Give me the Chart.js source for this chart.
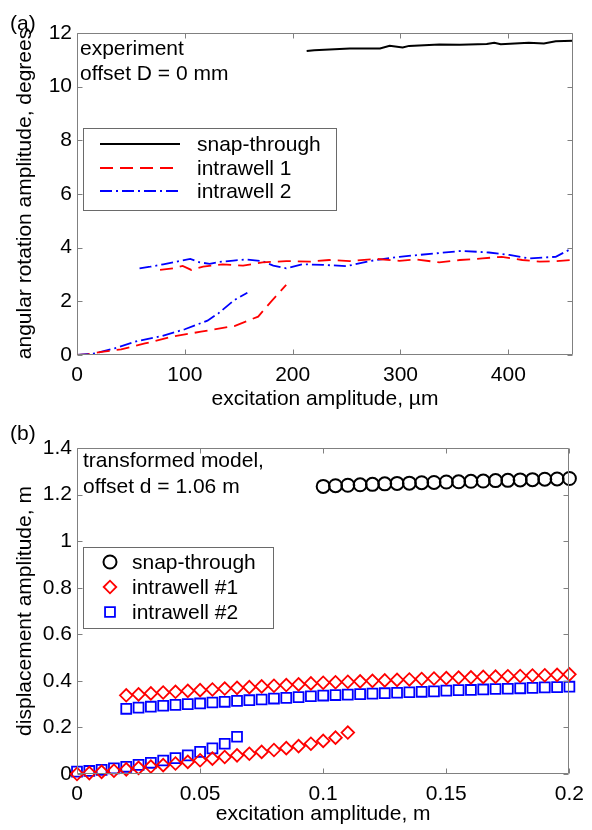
<!DOCTYPE html>
<html>
<head>
<meta charset="utf-8">
<script src="https://cdn.jsdelivr.net/npm/chart.js@4.4.1/dist/chart.umd.min.js"></script>
<style>
  body { margin: 0; background: #fff; }
  #wrap { position: relative; width: 592px; height: 830px; }
  canvas { position: absolute; left: 0; }
</style>
</head>
<body>
<div id="wrap">
  <canvas id="chartA" width="592" height="415" style="top:0"></canvas>
  <canvas id="chartB" width="592" height="415" style="top:415px"></canvas>
</div>
<script>
// ---- panel (a): experiment, excitation amplitude in um vs angle in degrees
var snapX = [213, 220, 253, 281, 290, 302, 308, 336, 355, 380, 387, 393, 419, 433, 444, 460];
var snapY = [11.33, 11.36, 11.42, 11.42, 11.52, 11.46, 11.52, 11.57, 11.56, 11.59, 11.64, 11.58, 11.64, 11.61, 11.69, 11.71];

var well1LowX = [0, 10, 23, 41, 63, 88, 115, 146, 168, 180, 194];
var well1LowY = [0, 0.02, 0.12, 0.21, 0.43, 0.68, 0.87, 1.08, 1.43, 1.99, 2.61];
var well1HighX = [77, 89, 98, 106, 117, 135, 154, 172, 194, 216, 234, 253, 278, 299, 315, 336, 355, 376, 394, 413, 429, 444, 460];
var well1HighY = [3.17, 3.23, 3.32, 3.17, 3.29, 3.38, 3.33, 3.45, 3.5, 3.48, 3.54, 3.5, 3.58, 3.51, 3.56, 3.45, 3.54, 3.6, 3.66, 3.54, 3.48, 3.5, 3.54];

var well2LowX = [0, 17, 35, 56, 79, 100, 121, 131, 146, 158];
var well2LowY = [0, 0.06, 0.25, 0.52, 0.71, 0.96, 1.28, 1.55, 2.05, 2.32];
var well2HighX = [58, 68, 80, 95, 105, 114, 123, 132, 145, 157, 172, 182, 194, 209, 228, 250, 271, 299, 333, 357, 382, 401, 419, 444, 456, 460];
var well2HighY = [3.23, 3.29, 3.38, 3.5, 3.58, 3.45, 3.4, 3.47, 3.52, 3.56, 3.5, 3.33, 3.23, 3.38, 3.36, 3.31, 3.5, 3.66, 3.79, 3.88, 3.82, 3.73, 3.6, 3.66, 3.91, 3.95];

// ---- panel (b): transformed model, excitation amplitude in m vs displacement in m
var circX = [0.1, 0.105, 0.11, 0.115, 0.12, 0.125, 0.13, 0.135, 0.14, 0.145, 0.15, 0.155, 0.16, 0.165, 0.17, 0.175, 0.18, 0.185, 0.19, 0.195, 0.2];
var circY = [1.235, 1.238, 1.24, 1.242, 1.244, 1.246, 1.248, 1.249, 1.251, 1.252, 1.254, 1.255, 1.257, 1.258, 1.26, 1.261, 1.263, 1.264, 1.266, 1.267, 1.269];

var diaLowX = [0, 0.005, 0.01, 0.015, 0.02, 0.025, 0.03, 0.035, 0.04, 0.045, 0.05, 0.055, 0.06, 0.065, 0.07, 0.075, 0.08, 0.085, 0.09, 0.095, 0.1, 0.105, 0.11];
var diaLowY = [0, 0.004, 0.009, 0.014, 0.02, 0.026, 0.032, 0.038, 0.045, 0.052, 0.059, 0.066, 0.073, 0.08, 0.087, 0.095, 0.103, 0.111, 0.12, 0.13, 0.142, 0.156, 0.178];
var highX = [0.02, 0.025, 0.03, 0.035, 0.04, 0.045, 0.05, 0.055, 0.06, 0.065, 0.07, 0.075, 0.08, 0.085, 0.09, 0.095, 0.1, 0.105, 0.11, 0.115, 0.12, 0.125, 0.13, 0.135, 0.14, 0.145, 0.15, 0.155, 0.16, 0.165, 0.17, 0.175, 0.18, 0.185, 0.19, 0.195, 0.2];
var diaHighY = [0.338, 0.342, 0.346, 0.35, 0.353, 0.357, 0.36, 0.363, 0.367, 0.37, 0.373, 0.376, 0.379, 0.382, 0.385, 0.389, 0.392, 0.394, 0.396, 0.398, 0.4, 0.402, 0.404, 0.406, 0.408, 0.41, 0.412, 0.414, 0.415, 0.417, 0.418, 0.42, 0.421, 0.423, 0.424, 0.426, 0.428];

var sqLowX = [0, 0.005, 0.01, 0.015, 0.02, 0.025, 0.03, 0.035, 0.04, 0.045, 0.05, 0.055, 0.06, 0.065];
var sqLowY = [0.01, 0.013, 0.018, 0.024, 0.031, 0.039, 0.048, 0.058, 0.068, 0.08, 0.095, 0.11, 0.13, 0.16];
var sqHighY = [0.28, 0.285, 0.289, 0.293, 0.297, 0.3, 0.303, 0.307, 0.31, 0.314, 0.317, 0.32, 0.324, 0.327, 0.33, 0.334, 0.337, 0.339, 0.341, 0.343, 0.345, 0.347, 0.349, 0.351, 0.353, 0.355, 0.358, 0.36, 0.361, 0.363, 0.365, 0.366, 0.368, 0.37, 0.372, 0.373, 0.375];

var FONT = "'Liberation Sans', Arial, Helvetica, sans-serif";
Chart.defaults.font.family = FONT;
Chart.defaults.font.size = 21;
Chart.defaults.color = '#000';

function pts(xs, ys) {
  return xs.map(function(x, i) { return { x: x, y: ys[i] }; });
}
function fmt(v) { return String(+v.toFixed(4)); }

// frame, inward ticks on four sides, panel label, notes and legend box
function decor(cfg) {
  return {
    id: 'decor',
    afterDatasetsDraw: function(chart) {
      var ctx = chart.ctx, a = chart.chartArea, sx = chart.scales.x, sy = chart.scales.y;
      ctx.save();
      ctx.strokeStyle = '#808080';
      ctx.lineWidth = 1;
      ctx.setLineDash([]);
      ctx.beginPath();
      var L = Math.round(a.left) + 0.5, R = Math.round(a.right) - 0.5;
      var T = Math.round(a.top) + 0.5, B = Math.round(a.bottom) - 0.5;
      ctx.rect(L, T, R - L, B - T);
      sx.ticks.forEach(function(t) {
        var p = Math.round(sx.getPixelForValue(t.value)) + 0.5;
        ctx.moveTo(p, B); ctx.lineTo(p, B - 5);
        ctx.moveTo(p, T); ctx.lineTo(p, T + 5);
      });
      sy.ticks.forEach(function(t) {
        var p = Math.round(sy.getPixelForValue(t.value)) + 0.5;
        ctx.moveTo(L, p); ctx.lineTo(L + 5, p);
        ctx.moveTo(R, p); ctx.lineTo(R - 5, p);
      });
      ctx.stroke();
      ctx.restore();
    },
    afterDraw: function(chart) {
      var ctx = chart.ctx;
      ctx.save();
      ctx.font = '21px ' + FONT;
      ctx.fillStyle = '#000';
      ctx.textBaseline = 'alphabetic';
      ctx.fillText(cfg.tag[0], cfg.tag[1], cfg.tag[2]);
      cfg.notes.forEach(function(n) { ctx.fillText(n[0], n[1], n[2]); });

      var b = cfg.box;
      ctx.fillStyle = '#fff';
      ctx.fillRect(b[0], b[1], b[2] - b[0], b[3] - b[1]);
      ctx.strokeStyle = '#6a6a6a';
      ctx.lineWidth = 1;
      ctx.strokeRect(b[0] + 0.5, b[1] + 0.5, b[2] - b[0], b[3] - b[1]);

      cfg.items.forEach(function(it) {
        var ds = chart.data.datasets[it.ds];
        ctx.save();
        ctx.strokeStyle = ds.borderColor;
        ctx.lineWidth = ds.borderWidth;
        if (cfg.lines) {
          ctx.setLineDash(ds.borderDash || []);
          ctx.beginPath();
          ctx.moveTo(cfg.sample[0], it.y);
          ctx.lineTo(cfg.sample[1], it.y);
          ctx.stroke();
        } else {
          ctx.fillStyle = 'rgba(0,0,0,0)';
          Chart.helpers.drawPoint(ctx, {
            pointStyle: ds.pointStyle, radius: ds.pointRadius, rotation: 0, borderWidth: ds.borderWidth
          }, cfg.sample[0], it.y);
        }
        ctx.restore();
        ctx.fillStyle = '#000';
        ctx.textBaseline = 'middle';
        ctx.fillText(ds.label, cfg.textX, it.y + 1);
      });
      ctx.restore();
    }
  };
}

function scales(xMin, xMax, xStep, yMin, yMax, yStep, xTitle, yTitle, xH) {
  return {
    x: {
      type: 'linear', min: xMin, max: xMax,
      grid: { display: false, drawTicks: false }, border: { display: false },
      ticks: { stepSize: xStep, includeBounds: false, padding: 8, maxRotation: 0, callback: fmt },
      title: { display: true, text: xTitle, padding: { top: 0, bottom: 3 } },
      afterFit: function(s) { s.height = xH; }
    },
    y: {
      type: 'linear', min: yMin, max: yMax,
      grid: { display: false, drawTicks: false }, border: { display: false },
      ticks: { stepSize: yStep, includeBounds: false, padding: 5, callback: fmt },
      title: { display: true, text: yTitle, padding: { top: 13, bottom: 0 } },
      afterFit: function(s) { s.width = 77; }
    }
  };
}

var RED = '#ff0000', BLUE = '#0000ff';

new Chart(document.getElementById('chartA'), {
  type: 'line',
  data: {
    datasets: [
      { label: 'snap-through', data: pts(snapX, snapY), borderColor: '#000', borderWidth: 2 },
      { label: 'intrawell 1', data: pts(well1LowX, well1LowY), borderColor: RED, borderWidth: 1.8, borderDash: [13, 7] },
      { label: 'intrawell 1', data: pts(well1HighX, well1HighY), borderColor: RED, borderWidth: 1.8, borderDash: [13, 7] },
      { label: 'intrawell 2', data: pts(well2LowX, well2LowY), borderColor: BLUE, borderWidth: 1.8, borderDash: [12, 4, 2, 4] },
      { label: 'intrawell 2', data: pts(well2HighX, well2HighY), borderColor: BLUE, borderWidth: 1.8, borderDash: [12, 4, 2, 4] }
    ]
  },
  options: {
    responsive: false, animation: false, devicePixelRatio: 1, events: [],
    layout: { padding: { top: 33, right: 19, bottom: 0, left: 0 } },
    elements: { point: { radius: 0 }, line: { tension: 0 } },
    plugins: { legend: { display: false }, tooltip: { enabled: false } },
    scales: scales(0, 460, 100, 0, 12, 2, 'excitation amplitude, \u00b5m', 'angular rotation amplitude, degrees', 60)
  },
  plugins: [decor({
    tag: ['(a)', 10, 30],
    notes: [['experiment', 80, 55], ['offset D = 0 mm', 80, 80]],
    box: [83, 128, 336, 210],
    lines: true, sample: [100, 180], textX: 197,
    items: [{ ds: 0, y: 144 }, { ds: 1, y: 168 }, { ds: 3, y: 191 }]
  })]
});

new Chart(document.getElementById('chartB'), {
  type: 'line',
  data: {
    datasets: [
      { label: 'snap-through', data: pts(circX, circY), borderColor: '#000', pointStyle: 'circle', pointRadius: 6.5, borderWidth: 2 },
      { label: 'intrawell #1', data: pts(highX, diaHighY), borderColor: RED, pointStyle: 'rectRot', pointRadius: 6.3, borderWidth: 1.8 },
      { label: 'intrawell #1', data: pts(diaLowX, diaLowY), borderColor: RED, pointStyle: 'rectRot', pointRadius: 6.3, borderWidth: 1.8 },
      { label: 'intrawell #2', data: pts(highX, sqHighY), borderColor: BLUE, pointStyle: 'rect', pointRadius: 7, borderWidth: 1.8 },
      { label: 'intrawell #2', data: pts(sqLowX, sqLowY), borderColor: BLUE, pointStyle: 'rect', pointRadius: 7, borderWidth: 1.8 }
    ].map(function(d) {
      d.showLine = false; d.clip = false; d.backgroundColor = 'rgba(0,0,0,0)';
      d.pointBorderColor = d.borderColor; d.pointBorderWidth = d.borderWidth;
      return d;
    })
  },
  options: {
    responsive: false, animation: false, devicePixelRatio: 1, events: [],
    layout: { padding: { top: 33, right: 18, bottom: 0, left: 0 } },
    plugins: { legend: { display: false }, tooltip: { enabled: false } },
    scales: scales(0, 0.2, 0.05, 0, 1.4, 0.2, 'excitation amplitude, m', 'displacement amplitude, m', 56)
  },
  plugins: [decor({
    tag: ['(b)', 10, 25],
    notes: [['transformed model,', 83, 52], ['offset d = 1.06 m', 83, 78]],
    box: [83, 132, 273, 213],
    lines: false, sample: [110], textX: 132,
    items: [{ ds: 0, y: 147 }, { ds: 1, y: 172 }, { ds: 3, y: 197 }]
  })]
});
</script>
</body>
</html>
